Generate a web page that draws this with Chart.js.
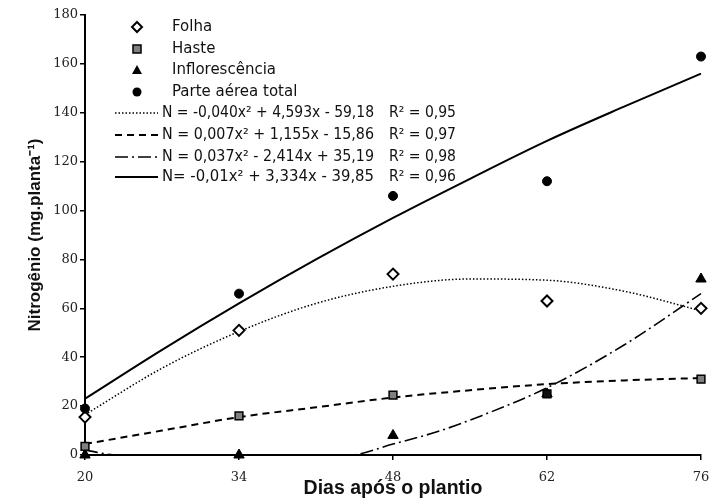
<!DOCTYPE html>
<html>
<head>
<meta charset="utf-8">
<script src="https://cdn.jsdelivr.net/npm/chart.js@4.4.1/dist/chart.umd.min.js"></script>
<style>
  html, body { margin: 0; padding: 0; background: #fff; }
  #wrap { width: 709px; height: 500px; }
</style>
</head>
<body>
<div id="wrap"><canvas id="nChart" width="709" height="500"></canvas></div>
<script>
// dados observados (dias após o plantio)
const dias = [20, 34, 48, 62, 76];
const folha = [15.5, 51, 74, 63, 60];
const haste = [3.5, 16, 24.5, 25, 31];
const infl = [0, 0, 8, 25, 72];
const total = [19, 66, 106, 112, 163];

// curvas ajustadas
const xAjuste = [20, 27, 34, 41, 48, 55, 62, 69, 76];
const folhaAjuste = [16.5, 35.5, 50.5, 62, 69, 72, 71.5, 67, 59];
const hasteAjuste = [4.5, 10, 15.5, 19.5, 23.5, 26.5, 29, 30.5, 31.5];
const totalAjuste = [23, 43, 62, 80, 97, 113, 128.5, 142.5, 156];
const xInflAjuste = [20, 23, 44, 48, 52, 56, 62, 69, 76];
const inflAjuste = [2, 0, 0, 4.5, 9.5, 16, 27.5, 45, 66];

const yTicks = [0, 20, 40, 60, 80, 100, 120, 140, 160, 180];

const nomes = ['Folha', 'Haste', 'Inflorescência', 'Parte aérea total'];
const equacoes = [
  'N = -0,040x² + 4,593x - 59,18',
  'N = 0,007x² + 1,155x - 15,86',
  'N = 0,037x² - 2,414x + 35,19',
  'N= -0,01x² + 3,334x - 39,85'
];
const r2 = ['R² = 0,95', 'R² = 0,97', 'R² = 0,98', 'R² = 0,96'];

function pts(xs, ys) {
  return xs.map((x, i) => ({ x: x, y: ys[i] }));
}

const tracos = [[1.5, 2], [7, 5], [13, 4, 2, 4], []];
const larguras = [1.5, 2, 1.6, 2];

// legenda desenhada dentro da área do gráfico
const legendaPlugin = {
  id: 'legenda',
  afterDraw(chart) {
    const ctx = chart.ctx;
    ctx.save();
    ctx.font = '15px "DejaVu Sans"';
    ctx.fillStyle = '#111';
    ctx.textBaseline = 'middle';
    const ys = [27, 49, 70, 92];
    const mx = 137;
    ys.forEach((y, i) => {
      ctx.strokeStyle = '#000';
      ctx.fillStyle = '#000';
      ctx.lineWidth = 2;
      ctx.beginPath();
      if (i === 0) {
        ctx.moveTo(mx, y - 5); ctx.lineTo(mx + 5, y); ctx.lineTo(mx, y + 5); ctx.lineTo(mx - 5, y); ctx.closePath();
        ctx.fillStyle = '#fff'; ctx.fill(); ctx.stroke();
      } else if (i === 1) {
        ctx.rect(mx - 4, y - 4, 8, 8);
        ctx.fillStyle = '#808080'; ctx.fill(); ctx.lineWidth = 1.5; ctx.stroke();
      } else if (i === 2) {
        ctx.moveTo(mx, y - 5); ctx.lineTo(mx + 5, y + 4); ctx.lineTo(mx - 5, y + 4); ctx.closePath();
        ctx.fill();
      } else {
        ctx.arc(mx, y, 4.5, 0, Math.PI * 2);
        ctx.fill();
      }
      ctx.fillStyle = '#111';
      ctx.fillText(nomes[i], 172, y);
    });
    const ye = [113, 135, 157, 177];
    ye.forEach((y, i) => {
      ctx.strokeStyle = '#000';
      ctx.lineWidth = larguras[i];
      ctx.setLineDash(tracos[i]);
      ctx.beginPath();
      ctx.moveTo(115, y); ctx.lineTo(158, y);
      ctx.stroke();
      ctx.setLineDash([]);
      ctx.fillText(equacoes[i], 162, y, 212);
      ctx.fillText(r2[i], 389, y, 67);
    });
    ctx.restore();
  }
};

const pontoBase = { showLine: false, clip: false, borderColor: '#000', pointBorderColor: '#000' };
const linhaBase = { pointRadius: 0, borderColor: '#000', fill: false, clip: false, cubicInterpolationMode: 'monotone' };

new Chart(document.getElementById('nChart'), {
  type: 'scatter',
  data: {
    datasets: [
      { ...pontoBase, label: nomes[3], data: pts(dias, total), pointStyle: 'circle', pointRadius: 4.5, pointBackgroundColor: '#000' },
      { ...pontoBase, label: nomes[0], data: pts(dias, folha), pointStyle: 'rectRot', pointRadius: 5.5, pointBorderWidth: 2, pointBackgroundColor: '#fff' },
      { ...pontoBase, label: nomes[1], data: pts(dias, haste), pointStyle: 'rect', pointRadius: 5.5, pointBorderWidth: 1.5,
        pointBackgroundColor: c => c.dataIndex === 3 ? '#111' : '#808080' },
      { ...pontoBase, label: nomes[2], data: pts(dias, infl), pointStyle: 'triangle', pointRadius: 6, pointBackgroundColor: '#000' },
      { ...linhaBase, type: 'line', label: 'aj. folha', data: pts(xAjuste, folhaAjuste), borderWidth: larguras[0], borderDash: tracos[0] },
      { ...linhaBase, type: 'line', label: 'aj. haste', data: pts(xAjuste, hasteAjuste), borderWidth: larguras[1], borderDash: tracos[1] },
      { ...linhaBase, type: 'line', label: 'aj. infl', data: pts(xInflAjuste, inflAjuste), borderWidth: larguras[2], borderDash: tracos[2] },
      { ...linhaBase, type: 'line', label: 'aj. total', data: pts(xAjuste, totalAjuste), borderWidth: larguras[3] }
    ]
  },
  options: {
    responsive: false,
    animation: false,
    layout: { padding: { left: 0, top: 15, right: 0, bottom: 0 } },
    plugins: { legend: { display: false }, tooltip: { enabled: false } },
    scales: {
      x: {
        type: 'linear', min: 20, max: 76,
        afterBuildTicks: s => { s.ticks = dias.map(v => ({ value: v })); },
        afterFit: s => { s.height = 45; s.paddingLeft = 0; s.paddingRight = 8; },
        ticks: { color: '#222', font: { family: 'DejaVu Serif', size: 13 }, padding: 10, maxRotation: 0 },
        grid: { drawOnChartArea: false, color: '#000', tickLength: 5, lineWidth: 1.5 },
        border: { color: '#000', width: 2 },
        title: { display: true, text: 'Dias após o plantio', color: '#111',
          font: { family: 'Liberation Sans', size: 19.5, weight: 'bold' }, padding: { top: 0, bottom: 0 } }
      },
      y: {
        min: 0, max: 180,
        afterBuildTicks: s => { s.ticks = yTicks.map(v => ({ value: v })); },
        afterFit: s => { s.width = 85; },
        ticks: { color: '#222', font: { family: 'DejaVu Serif', size: 13 }, padding: 2 },
        grid: { drawOnChartArea: false, color: '#000', tickLength: 5, lineWidth: 1.5 },
        border: { color: '#000', width: 2 },
        title: { display: true, text: 'Nitrogênio (mg.planta⁻¹)', color: '#111',
          font: { family: 'Liberation Sans', size: 17, weight: 'bold' }, padding: { top: 25, bottom: 0 } }
      }
    }
  },
  plugins: [legendaPlugin]
});
</script>
</body>
</html>
